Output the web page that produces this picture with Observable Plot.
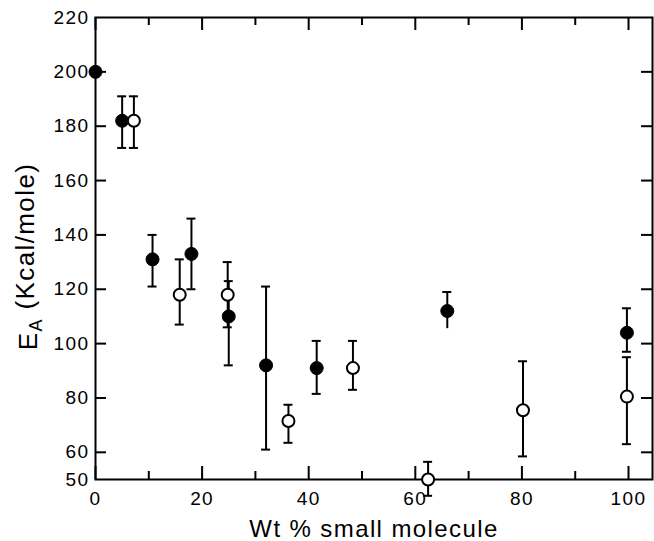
<!DOCTYPE html>
<html>
<head>
<meta charset="utf-8">
<script src="https://cdn.jsdelivr.net/npm/d3@7"></script>
<script src="https://cdn.jsdelivr.net/npm/@observablehq/plot@0.6"></script>
<style>
  html, body { margin: 0; padding: 0; background: #fff; }
  #chart svg text { letter-spacing: 1.4px; }
</style>
</head>
<body>
<div id="chart"></div>
<script>
// Filled circles
const filledX  = [0, 5, 10.7, 18, 25, 32, 41.5, 66, 99.7];
const filledY  = [200, 182, 131, 133, 110, 92, 91, 112, 104];
const filledLo = [null, 172, 121, 120, 92, 61, 81.5, 105.5, 97];
const filledHi = [null, 191, 140, 146, 123, 121, 101, 119, 113];

// Open circles
const openX  = [7.2, 15.8, 24.8, 36.2, 48.3, 62.4, 80.2, 99.7];
const openY  = [182, 118, 118, 71.5, 91, 50, 75.5, 80.5];
const openLo = [172, 107, 106, 63.5, 83, 44, 58.5, 63];
const openHi = [191, 131, 130, 77.5, 101, 56.5, 93.5, 95];

const xMajorTicks = [0, 20, 40, 60, 80, 100];
const xMinorTicks = [10, 30, 50, 70, 90];
const yTickMarks  = [60, 80, 100, 120, 140, 160, 180, 200];
const yTickLabels = [50, 60, 80, 100, 120, 140, 160, 180, 200, 220];

const xTitle = "Wt % small molecule";
const yTitle = "EA (Kcal/mole)";

const filled = filledX.map((x, i) => ({x, y: filledY[i], lo: filledLo[i], hi: filledHi[i]}));
const open = openX.map((x, i) => ({x, y: openY[i], lo: openLo[i], hi: openHi[i]}));
const withErr = filled.filter(d => d.lo != null).concat(open);

const W = 654, H = 541, mL = 95, mR = 2, mT = 17, mB = 62;
const fw = W - mL - mR, fh = H - mT - mB;

const chart = Plot.plot({
  width: W, height: H,
  marginLeft: mL, marginRight: mR, marginTop: mT, marginBottom: mB,
  style: {fontFamily: "'Liberation Sans', Arial, sans-serif", color: "black", background: "white"},
  x: {domain: [0, 104.5]},
  y: {domain: [50, 220]},
  marks: [
    Plot.axisX({ticks: xMajorTicks, tickSize: 0, tickPadding: 12, fontSize: 19, label: null, tickFormat: d => String(d)}),
    Plot.axisY({ticks: yTickLabels, tickSize: 0, tickPadding: 6, fontSize: 19, label: null, tickFormat: d => String(d)}),
    // inward ticks
    Plot.ruleX(xMajorTicks, {x: d => d, insetTop: fh - 13, strokeWidth: 2}),
    Plot.ruleX(xMinorTicks, {x: d => d, insetTop: fh - 8, strokeWidth: 2}),
    Plot.ruleX(xMajorTicks, {x: d => d, insetBottom: fh - 13, strokeWidth: 2}),
    Plot.ruleX(xMinorTicks, {x: d => d, insetBottom: fh - 8, strokeWidth: 2}),
    Plot.ruleY(yTickMarks, {y: d => d, insetRight: fw - 11, strokeWidth: 2}),
    Plot.ruleY(yTickMarks, {y: d => d, insetLeft: fw - 11, strokeWidth: 2}),
    Plot.frame({strokeWidth: 2}),
    // error bars
    Plot.ruleX(withErr, {x: "x", y1: "lo", y2: "hi", strokeWidth: 2}),
    Plot.ruleY(withErr, {y: "hi", x1: "x", x2: "x", insetLeft: -4.5, insetRight: -4.5, strokeWidth: 2}),
    Plot.ruleY(withErr.filter(d => !(d.x === 66)), {y: "lo", x1: "x", x2: "x", insetLeft: -4.5, insetRight: -4.5, strokeWidth: 2}),
    // points
    Plot.dot(filled, {x: "x", y: "y", r: 6.5, fill: "black", stroke: "black", strokeWidth: 1}),
    Plot.dot(open, {x: "x", y: "y", r: 6, fill: "white", stroke: "black", strokeWidth: 2}),
    // titles
    Plot.text([xTitle], {frameAnchor: "bottom", dy: 50, fontSize: 24, lineAnchor: "middle", textAnchor: "middle"}),
    Plot.text([yTitle], {frameAnchor: "left", dx: -67, dy: 8, rotate: -90, fontSize: 26, lineAnchor: "middle", textAnchor: "middle"})
  ]
});

document.getElementById("chart").appendChild(chart);

// subscript A in the y title
for (const t of chart.querySelectorAll("text")) {
  if (t.textContent === yTitle) {
    t.textContent = "";
    const ns = "http://www.w3.org/2000/svg";
    const a = document.createElementNS(ns, "tspan"); a.textContent = "E";
    const b = document.createElementNS(ns, "tspan"); b.textContent = "A"; b.setAttribute("dy", "0.3em"); b.setAttribute("font-size", "18");
    const c = document.createElementNS(ns, "tspan"); c.textContent = " (Kcal/mole)"; c.setAttribute("dy", "-0.3em");
    t.appendChild(a); t.appendChild(b); t.appendChild(c);
  }
}
</script>
</body>
</html>
